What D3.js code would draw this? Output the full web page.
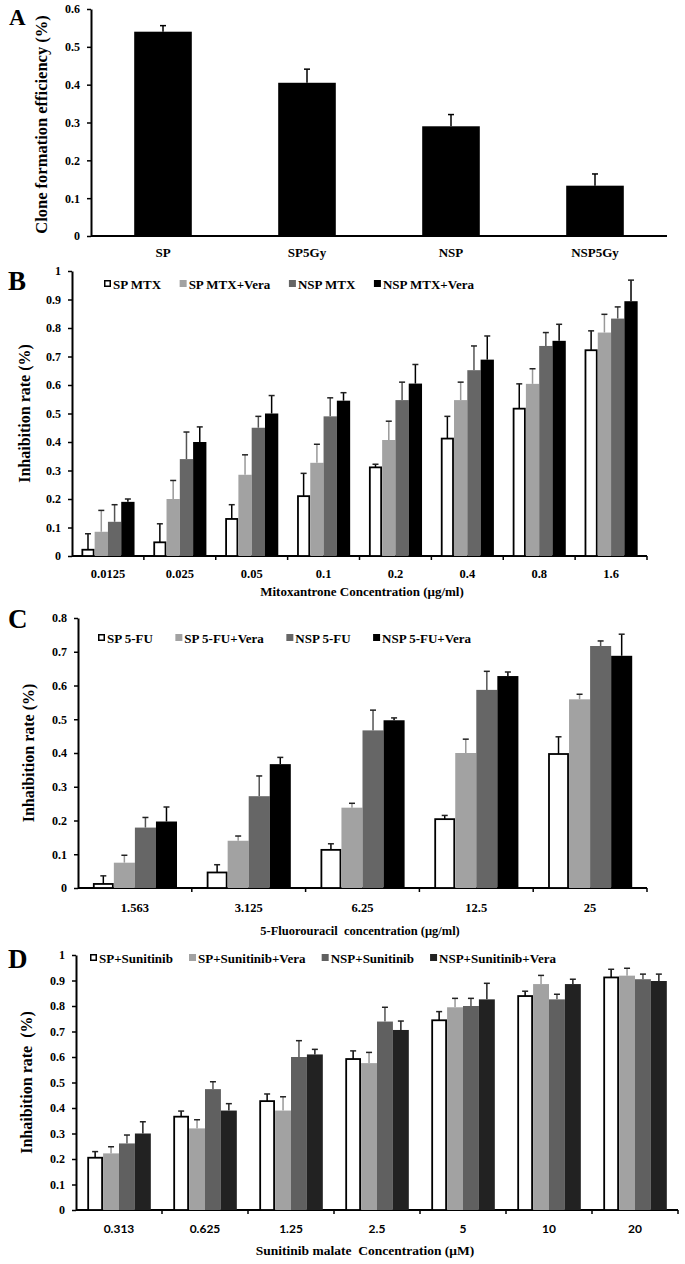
<!DOCTYPE html>
<html><head><meta charset="utf-8">
<script src="https://cdn.jsdelivr.net/npm/d3@7"></script>
<style>
body{margin:0;background:#fff;}
svg{display:block;}
text{font-family:"Liberation Serif","Times New Roman",serif;font-weight:bold;fill:#000;white-space:pre;}
</style></head>
<body>
<svg id="chart" width="685" height="1264"></svg>
<script>
// ---------- Panel A ----------
const aCategories = ["SP","SP5Gy","NSP","NSP5Gy"];
const aValues = [0.54,0.405,0.29,0.133];
const aErrors = [0.016,0.036,0.031,0.031];
const aTicks = [0,0.1,0.2,0.3,0.4,0.5,0.6];

// ---------- Panel B ----------
const bCategories = ["0.0125","0.025","0.05","0.1","0.2","0.4","0.8","1.6"];
const bSeries = ["SP MTX","SP MTX+Vera","NSP MTX","NSP MTX+Vera"];
const bSP     = [0.022,0.048,0.130,0.210,0.311,0.412,0.517,0.722];
const bSPV    = [0.085,0.200,0.285,0.327,0.407,0.547,0.604,0.784];
const bNSP    = [0.120,0.340,0.450,0.490,0.547,0.652,0.737,0.833];
const bNSPV   = [0.190,0.400,0.500,0.545,0.605,0.689,0.755,0.894];
const bSPe    = [0.056,0.065,0.050,0.080,0.011,0.078,0.087,0.068];
const bSPVe   = [0.075,0.065,0.070,0.065,0.066,0.063,0.053,0.064];
const bNSPe   = [0.060,0.095,0.040,0.065,0.063,0.085,0.047,0.041];
const bNSPVe  = [0.010,0.053,0.063,0.028,0.067,0.083,0.058,0.074];
const bTicks = [0,0.1,0.2,0.3,0.4,0.5,0.6,0.7,0.8,0.9,1];

// ---------- Panel C ----------
const cCategories = ["1.563","3.125","6.25","12.5","25"];
const cSeries = ["SP 5-FU","SP 5-FU+Vera","NSP 5-FU","NSP 5-FU+Vera"];
const cSP    = [0.012,0.046,0.113,0.204,0.397];
const cSPV   = [0.075,0.140,0.238,0.400,0.559];
const cNSP   = [0.179,0.272,0.467,0.587,0.717];
const cNSPV  = [0.197,0.367,0.497,0.628,0.688];
const cSPe   = [0.024,0.023,0.018,0.011,0.051];
const cSPVe  = [0.022,0.014,0.013,0.041,0.015];
const cNSPe  = [0.030,0.060,0.060,0.055,0.015];
const cNSPVe = [0.043,0.020,0.007,0.012,0.064];
const cTicks = [0,0.1,0.2,0.3,0.4,0.5,0.6,0.7,0.8];

// ---------- Panel D ----------
const dCategories = ["0.313","0.625","1.25","2.5","5","10","20"];
const dSeries = ["SP+Sunitinib","SP+Sunitinib+Vera","NSP+Sunitinib","NSP+Sunitinib+Vera"];
const dSP    = [0.205,0.366,0.427,0.592,0.744,0.839,0.912];
const dSPV   = [0.222,0.320,0.390,0.576,0.795,0.886,0.919];
const dNSP   = [0.261,0.474,0.600,0.739,0.800,0.826,0.905];
const dNSPV  = [0.300,0.390,0.610,0.706,0.826,0.886,0.898];
const dSPe   = [0.024,0.022,0.028,0.032,0.034,0.019,0.032];
const dSPVe  = [0.026,0.034,0.054,0.042,0.035,0.034,0.029];
const dNSPe  = [0.033,0.029,0.064,0.056,0.030,0.020,0.020];
const dNSPVe = [0.046,0.027,0.020,0.035,0.063,0.019,0.027];
const dTicks = [0,0.1,0.2,0.3,0.4,0.5,0.6,0.7,0.8,0.9,1];

const svg = d3.select("#chart");
const fmt = d => d === 0 ? "0" : (d === 1 ? "1" : d3.format(".1f")(d));

function yAxis(g, y, ticks, x0) {
  const ax = g.append("g").attr("transform", `translate(${x0},0)`)
    .call(d3.axisLeft(y).tickValues(ticks).tickFormat(fmt).tickSize(4).tickSizeOuter(0));
  ax.select(".domain").attr("stroke", "#000").attr("stroke-width", 2);
  ax.selectAll(".tick line").attr("stroke", "#000").attr("stroke-width", 1.5);
  ax.selectAll(".tick text").attr("font-size", 12).attr("dx", "-4");
  return ax;
}

// ---------- Draw A ----------
(function(){
  const g = svg.append("g");
  const left = 91, right = 667, top = 9, bottom = 236;
  const x = d3.scaleBand().domain(aCategories).range([left, right]).paddingInner(0.6).paddingOuter(0.3);
  const y = d3.scaleLinear().domain([0, 0.6]).range([bottom, top]);
  yAxis(g, y, aTicks, left);
  g.append("line").attr("x1", left).attr("x2", right).attr("y1", bottom).attr("y2", bottom)
    .attr("stroke", "#000").attr("stroke-width", 2);
  aCategories.forEach((c, i) => {
    const cx = x(c) + x.bandwidth() / 2;
    g.append("line").attr("x1", cx).attr("x2", cx).attr("y1", y(aValues[i])).attr("y2", y(aValues[i] + aErrors[i]))
      .attr("stroke", "#000").attr("stroke-width", 1.5);
    g.append("line").attr("x1", cx - 3).attr("x2", cx + 3).attr("y1", y(aValues[i] + aErrors[i])).attr("y2", y(aValues[i] + aErrors[i]))
      .attr("stroke", "#000").attr("stroke-width", 1.5);
    g.append("rect").attr("x", x(c)).attr("y", y(aValues[i])).attr("width", x.bandwidth())
      .attr("height", bottom - y(aValues[i])).attr("fill", "#000");
    g.append("text").attr("x", cx).attr("y", 257).attr("text-anchor", "middle").attr("font-size", 13).text(c);
  });
  g.append("text").attr("transform", `translate(47,${(top + bottom) / 2 + 2}) rotate(-90)`)
    .attr("text-anchor", "middle").attr("font-size", 16.5).text("Clone formation efficiency (%)");
  g.append("text").attr("x", 9).attr("y", 25).attr("font-size", 23).text("A");
})();

// ---------- Grouped panel ----------
function grouped(opt) {
  const g = svg.append("g");
  const {left, right, top, bottom, ymax, cats, series, vals, errs, ticks, colors, errColors} = opt;
  const x0 = d3.scaleBand().domain(cats).range([left, right]).paddingInner(0.26).paddingOuter(0.13);
  const x1 = d3.scaleBand().domain(series).range([0, x0.bandwidth()]).padding(0);
  const y = d3.scaleLinear().domain([0, ymax]).range([bottom, top]);
  yAxis(g, y, ticks, left);
  g.append("line").attr("x1", left).attr("x2", right).attr("y1", bottom).attr("y2", bottom)
    .attr("stroke", "#000").attr("stroke-width", 2);
  const step = x0.step();
  d3.range(1, cats.length + 1).forEach(i => {
    const bx = left + step * i;
    g.append("line").attr("x1", bx).attr("x2", bx).attr("y1", bottom).attr("y2", bottom + 4)
      .attr("stroke", "#000").attr("stroke-width", 1.5);
  });
  cats.forEach((c, ci) => {
    series.forEach((s, si) => {
      const v = vals[si][ci], e = errs[si][ci];
      const bx = x0(c) + x1(s), bw = x1.bandwidth();
      const cx = bx + bw / 2;
      g.append("line").attr("x1", cx).attr("x2", cx).attr("y1", y(v)).attr("y2", y(v + e))
        .attr("stroke", errColors[si]).attr("stroke-width", 1.5);
      g.append("line").attr("x1", cx - 3).attr("x2", cx + 3).attr("y1", y(v + e)).attr("y2", y(v + e))
        .attr("stroke", "#222").attr("stroke-width", 1.5);
      if (si === 0) {
        g.append("rect").attr("x", bx + 1).attr("y", y(v)).attr("width", bw - 2).attr("height", bottom - y(v))
          .attr("fill", "#fff").attr("stroke", "#000").attr("stroke-width", 1.8);
      } else {
        g.append("rect").attr("x", bx).attr("y", y(v)).attr("width", bw).attr("height", bottom - y(v))
          .attr("fill", colors[si]);
      }
    });
    g.append("text").attr("x", x0(c) + x0.bandwidth() / 2).attr("y", opt.labelY)
      .attr("text-anchor", "middle").attr("font-size", opt.tickSize || 12.5)
      .style("font-family", opt.tickFont || null).text(c);
  });
  // legend: lay out items sequentially between legendStart and legendEnd
  const ly = opt.legendY, sq = 7, sqGap = 2;
  const items = series.map((s, si) => {
    const t = g.append("text").attr("y", ly + 4.5).attr("font-size", opt.legendSize || 13).text(s);
    return {t, w: t.node().getComputedTextLength(), si};
  });
  const total = d3.sum(items, d => d.w + sq + sqGap);
  const gap = (opt.legendEnd - opt.legendStart - total) / (items.length - 1);
  let cx = opt.legendStart;
  items.forEach(it => {
    if (it.si === 0) {
      g.append("rect").attr("x", cx + 0.75).attr("y", ly - 3.25).attr("width", sq - 1.5).attr("height", sq - 1.5)
        .attr("fill", "#fff").attr("stroke", "#000").attr("stroke-width", 1.5);
    } else {
      g.append("rect").attr("x", cx).attr("y", ly - 4).attr("width", sq).attr("height", sq).attr("fill", colors[it.si]);
    }
    it.t.attr("x", cx + sq + sqGap);
    cx += sq + sqGap + it.w + gap;
  });
  g.append("text").attr("x", opt.titleX).attr("y", opt.titleY).attr("text-anchor", "middle")
    .attr("font-size", opt.titleSize || 13).text(opt.xTitle);
  g.append("text").attr("transform", `translate(${opt.yTitleX},${(top + bottom) / 2}) rotate(-90)`)
    .attr("text-anchor", "middle").attr("font-size", 16).text(opt.yTitle);
  g.append("text").attr("x", 8).attr("y", opt.letterY).attr("font-size", 27).text(opt.letter);
}

grouped({
  left: 72, right: 647, top: 271, bottom: 556, ymax: 1,
  cats: bCategories, series: bSeries,
  vals: [bSP, bSPV, bNSP, bNSPV], errs: [bSPe, bSPVe, bNSPe, bNSPVe], ticks: bTicks,
  colors: ["#fff", "#a2a2a2", "#666666", "#000"], errColors: ["#000", "#999", "#555", "#000"],
  labelY: 578, legendStart: 104, legendEnd: 474, legendY: 284,
  xTitle: "Mitoxantrone Concentration (\u03bcg/ml)", titleX: 362, titleY: 596, titleSize: 13,
  yTitle: "Inhaibition rate (%)", yTitleX: 30, letter: "B", letterY: 290
});

grouped({
  left: 78, right: 647, top: 618, bottom: 888, ymax: 0.8,
  cats: cCategories, series: cSeries,
  vals: [cSP, cSPV, cNSP, cNSPV], errs: [cSPe, cSPVe, cNSPe, cNSPVe], ticks: cTicks,
  colors: ["#fff", "#a2a2a2", "#666666", "#000"], errColors: ["#000", "#999", "#555", "#000"],
  labelY: 912, legendStart: 98, legendEnd: 471, legendY: 638,
  xTitle: "5-Fluorouracil  concentration (\u03bcg/ml)", titleX: 360, titleY: 935, titleSize: 12.5,
  yTitle: "Inhaibition rate (%)", yTitleX: 34, letter: "C", letterY: 628
});

grouped({
  left: 76, right: 678, top: 955, bottom: 1210, ymax: 1,
  cats: dCategories, series: dSeries,
  vals: [dSP, dSPV, dNSP, dNSPV], errs: [dSPe, dSPVe, dNSPe, dNSPVe], ticks: dTicks,
  colors: ["#fff", "#a2a2a2", "#606060", "#222"], errColors: ["#000", "#999", "#555", "#222"],
  labelY: 1233, legendStart: 90, legendEnd: 556, legendY: 958, legendSize: 13,
  tickFont: "Lato, 'Liberation Sans', sans-serif", tickSize: 12,
  xTitle: "Sunitinib malate  Concentration (\u03bcM)", titleX: 365, titleY: 1255, titleSize: 13.5,
  yTitle: "Inhaibition rate  (%)", yTitleX: 32, letter: "D", letterY: 968
});
</script>
</body></html>
